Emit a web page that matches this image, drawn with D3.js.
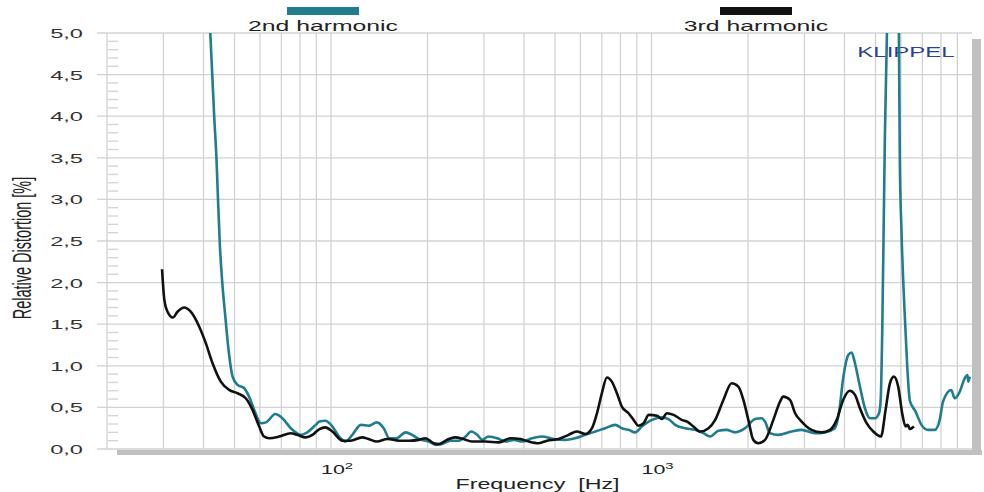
<!DOCTYPE html>
<html>
<head>
<meta charset="utf-8">
<script src="https://cdn.jsdelivr.net/npm/d3@7"></script>
<style>
	body { margin: 0; background: #fff; }
	text { font-family: "Liberation Sans", Arial, sans-serif; }
</style>
</head>
<body>
<div id="chart"></div>
<script>
// Data (frequency in Hz, distortion in %)
const freq2 = [41.5, 42.0, 42.6, 43.2, 43.9, 44.4, 45.0, 45.8, 46.8, 47.9,
	49.3, 51.1, 53.6, 55.5, 57.6, 60.4, 62.7, 67.0, 70.5, 74.9,
	80.5, 83.5, 89.6, 92, 96, 101, 106, 111, 116.5, 124,
	131, 139, 146, 152, 160, 171, 179, 188, 202, 212,
	222, 236, 251, 263, 274, 286, 296, 310, 330, 350,
	372, 395, 424, 455, 495, 538, 578, 622, 668, 717,
	771, 808, 848, 889, 933, 1003, 1077, 1130, 1185, 1273,
	1368, 1452, 1523, 1617, 1716, 1823, 1959, 2104, 2206, 2260,
	2343, 2487, 2737, 2940, 3236, 3475, 3733, 3850, 3963, 4111,
	4209, 4315, 4470, 4634, 4805, 4981, 5127, 5190, 5248, 5350,
	5428, 5460, 5883, 5914, 5955, 6024, 6170, 6278, 6399, 6666,
	6957, 7295, 7654, 7930, 8120, 8614, 8830, 9160, 9490, 9680,
	9730, 9840];
const dist2 = [5.4, 5.0, 4.5, 4.0, 3.5, 3.0, 2.45, 1.99, 1.59, 1.19,
	0.87, 0.77, 0.73, 0.63, 0.47, 0.31, 0.32, 0.42, 0.37, 0.25,
	0.17, 0.19, 0.29, 0.33, 0.34, 0.27, 0.15, 0.09, 0.17, 0.29,
	0.28, 0.32, 0.25, 0.13, 0.13, 0.20, 0.17, 0.12, 0.09, 0.05,
	0.06, 0.10, 0.10, 0.15, 0.21, 0.17, 0.11, 0.15, 0.13, 0.09,
	0.11, 0.09, 0.13, 0.15, 0.12, 0.11, 0.13, 0.17, 0.21, 0.25,
	0.29, 0.25, 0.23, 0.20, 0.27, 0.35, 0.38, 0.36, 0.29, 0.25,
	0.23, 0.19, 0.15, 0.22, 0.23, 0.20, 0.25, 0.36, 0.37, 0.33,
	0.19, 0.17, 0.21, 0.23, 0.19, 0.20, 0.25, 0.45, 0.85, 1.13,
	1.16, 1.03, 0.75, 0.49, 0.37, 0.37, 0.43, 0.60, 1.43, 3.8,
	5.0, 5.6, 5.6, 5.0, 3.44, 2.63, 1.6, 1.0, 0.58, 0.45,
	0.29, 0.23, 0.23, 0.35, 0.57, 0.71, 0.61, 0.69, 0.85, 0.89,
	0.81, 0.87];

const freq3 = [29.7, 30.2, 30.9, 32.1, 33.2, 34.8, 36.5, 38.8, 40.7, 42.7,
	45.3, 48.1, 51.1, 54.2, 56.9, 59.7, 61.8, 64.1, 68.9, 74.9,
	78.5, 83.4, 87.5, 92, 96, 101, 108.5, 115, 125, 131,
	139, 150, 163, 175, 188, 197, 209, 217, 230, 244,
	259, 275, 303, 334, 363, 390, 414, 445, 472, 513,
	551, 585, 622, 652, 676, 700, 726, 752, 780, 808,
	848, 879, 911, 945, 980, 1040, 1077, 1117, 1172, 1243,
	1303, 1351, 1418, 1506, 1580, 1676, 1779, 1866, 1935, 2005,
	2078, 2155, 2260, 2400, 2518, 2577, 2705, 2805, 2940, 3157,
	3394, 3606, 3783, 3963, 4159, 4315, 4470, 4690, 4920, 5200,
	5375, 5545, 5705, 5885, 6055, 6205, 6300, 6400, 6590];
const dist3 = [2.16, 1.79, 1.65, 1.58, 1.65, 1.70, 1.65, 1.47, 1.27, 1.03,
	0.81, 0.71, 0.67, 0.61, 0.47, 0.27, 0.15, 0.13, 0.15, 0.19,
	0.17, 0.14, 0.17, 0.24, 0.26, 0.21, 0.10, 0.10, 0.14, 0.12,
	0.09, 0.12, 0.10, 0.10, 0.11, 0.13, 0.07, 0.06, 0.11, 0.14,
	0.12, 0.09, 0.09, 0.08, 0.13, 0.12, 0.09, 0.07, 0.10, 0.12,
	0.17, 0.21, 0.18, 0.25, 0.43, 0.67, 0.86, 0.81, 0.67, 0.51,
	0.43, 0.35, 0.28, 0.31, 0.41, 0.40, 0.36, 0.43, 0.41, 0.35,
	0.32, 0.27, 0.21, 0.25, 0.35, 0.59, 0.79, 0.75, 0.59, 0.35,
	0.11, 0.07, 0.11, 0.35, 0.57, 0.63, 0.59, 0.43, 0.33, 0.23,
	0.20, 0.23, 0.35, 0.59, 0.70, 0.65, 0.49, 0.31, 0.21, 0.15,
	0.47, 0.79, 0.87, 0.75, 0.43, 0.27, 0.29, 0.24, 0.27];

const seriesNames = ['2nd harmonic', '3rd harmonic'];
const seriesColors = ['#1f7d8e', '#111111'];
const yTicks = [0, 0.5, 1, 1.5, 2, 2.5, 3, 3.5, 4, 4.5, 5];
const yMinor = d3.range(0, 50).map((d) => d / 10).filter((d, i) => i % 5 !== 0);
const xGrid = [30, 40, 50, 60, 70, 80, 90, 100, 200, 300, 400, 500, 600, 700, 800, 900,
	1000, 2000, 3000, 4000, 5000, 6000, 7000, 8000, 9000];
const xLabels = [{ v: 100, e: '2' }, { v: 1000, e: '3' }];

// Layout
const width = 984;
const height = 492;
const margin = { top: 33, right: 12, bottom: 43, left: 107 };
const stretch = 1.65; // the source picture is widened, so text is too
const gridColor = '#d2d2d2';

const svg = d3.select('#chart').append('svg')
	.attr('width', width).attr('height', height)
	.attr('viewBox', [0, 0, width, height]);

const x = d3.scaleLog()
	.domain([20, 10000])
	.range([margin.left, width - margin.right]);
const y = d3.scaleLinear()
	.domain([0, 5])
	.range([height - margin.bottom, margin.top]);

function label(g, px, py, str, size, anchor, sx) {
	return g.append('text')
		.attr('transform', `translate(${px},${py}) scale(${sx},1)`)
		.attr('text-anchor', anchor)
		.attr('font-size', size)
		.text(str);
}

// drop shadow on right and bottom
svg.append('rect')
	.attr('x', x.range()[1]).attr('y', margin.top + 6)
	.attr('width', 9).attr('height', y(0) - margin.top + 0)
	.attr('fill', '#c0c0c0');
svg.append('rect')
	.attr('x', margin.left + 10).attr('y', y(0) + 1)
	.attr('width', x.range()[1] - margin.left)
	.attr('height', 5)
	.attr('fill', '#c0c0c0');

// grid
const grid = svg.append('g').attr('stroke', gridColor).attr('stroke-width', 1.3);
grid.selectAll('.h').data(yTicks).join('line')
	.attr('x1', margin.left - 10).attr('x2', x.range()[1])
	.attr('y1', (d) => y(d)).attr('y2', (d) => y(d));
grid.selectAll('.v').data(xGrid).join('line')
	.attr('x1', (d) => x(d)).attr('x2', (d) => x(d))
	.attr('y1', margin.top).attr('y2', y(0));
grid.append('line')
	.attr('x1', margin.left).attr('x2', margin.left)
	.attr('y1', margin.top).attr('y2', y(0));
grid.selectAll('.m').data(yMinor).join('line')
	.attr('x1', margin.left + 1).attr('x2', margin.left + 11)
	.attr('y1', (d) => y(d)).attr('y2', (d) => y(d));

// y tick labels
const yLab = svg.append('g').attr('fill', '#333');
yTicks.forEach((t) => {
	label(yLab, margin.left - 24, y(t) + 5, d3.format('.1f')(t).replace('.', ','), 13.5, 'end', 1.75);
});

// x tick labels (10^n)
xLabels.forEach((t) => {
	const txt = svg.append('text')
		.attr('transform', `translate(${x(t.v) - 10},${y(0) + 25}) scale(${stretch},1)`)
		.attr('font-size', 13)
		.attr('fill', '#222');
	txt.append('tspan').text('10');
	txt.append('tspan').attr('dy', -5).attr('font-size', 9).text(t.e);
});

// axis titles
label(svg, (margin.left + x.range()[1]) / 2 - 2, height - 3, 'Frequency  [Hz]', 15, 'middle', 1.55)
	.attr('fill', '#222').style('white-space', 'pre');
svg.append('text')
	.attr('transform', `translate(31,248) scale(1.75,1) rotate(-90)`)
	.attr('text-anchor', 'middle')
	.attr('font-size', 14.5)
	.attr('fill', '#222')
	.text('Relative Distortion [%]');

// legend
const legendX = [323, 756];
seriesNames.forEach((name, i) => {
	svg.append('rect')
		.attr('x', legendX[i] - 36).attr('y', 7)
		.attr('width', 72).attr('height', 8)
		.attr('fill', seriesColors[i]);
	label(svg, legendX[i], 30.5, name, 15, 'middle', stretch).attr('fill', '#222');
});

label(svg, 906, 57, 'KLIPPEL', 15, 'middle', 1.6).attr('fill', '#2b3f93');

// curves
svg.append('clipPath').attr('id', 'plot-clip')
	.append('rect')
	.attr('x', margin.left).attr('y', margin.top)
	.attr('width', x.range()[1] - margin.left)
	.attr('height', y(0) - margin.top);

const line = d3.line()
	.x((d) => x(d[0]))
	.y((d) => y(d[1]))
	.curve(d3.curveMonotoneX);

const series = [d3.zip(freq2, dist2), d3.zip(freq3, dist3)];
svg.append('g')
	.attr('clip-path', 'url(#plot-clip)')
	.selectAll('path')
	.data(series)
	.join('path')
	.attr('fill', 'none')
	.attr('stroke', (d, i) => seriesColors[i])
	.attr('stroke-width', 2.6)
	.attr('stroke-linejoin', 'round')
	.attr('d', line);
</script>
</body>
</html>
